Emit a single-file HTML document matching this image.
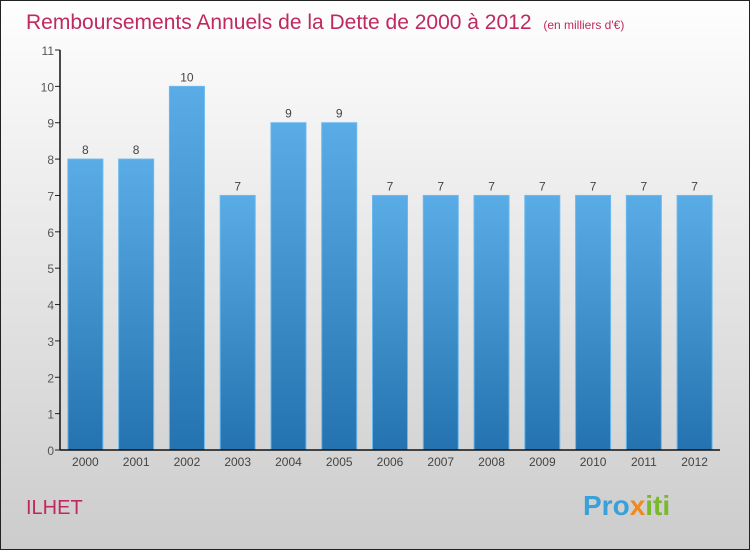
<!DOCTYPE html>
<html><head><meta charset="utf-8"><style>
body{margin:0;width:750px;height:550px;overflow:hidden;font-family:"Liberation Sans",sans-serif}
</style></head><body>
<svg width="750" height="550" xmlns="http://www.w3.org/2000/svg">
<defs>
<linearGradient id="bg" x1="0" y1="0" x2="0" y2="1"><stop offset="0" stop-color="#fefefe"/><stop offset="1" stop-color="#cccccc"/></linearGradient>
<linearGradient id="bar" x1="0" y1="0" x2="0" y2="1"><stop offset="0" stop-color="#5aace6"/><stop offset="1" stop-color="#2473b0"/></linearGradient>
</defs>
<rect x="0.5" y="0.5" width="749" height="549" fill="url(#bg)" stroke="#222"/>
<text x="26" y="29" font-size="21" fill="#c0285f">Remboursements Annuels de la Dette de 2000 à 2012 <tspan font-size="12" dx="6">(en milliers d'€)</tspan></text>
<g id="plot"></g>
<text x="26" y="514" font-size="20" fill="#c0285f">ILHET</text>
<text x="583" y="515" font-size="28" font-weight="bold" fill="#3aa0d8">Pro<tspan fill="#f08a1c">x</tspan><tspan fill="#7ab92b">iti</tspan></text>
</svg>
<script>
const categories=["2000","2001","2002","2003","2004","2005","2006","2007","2008","2009","2010","2011","2012"];
const values=[8,8,10,7,9,9,7,7,7,7,7,7,7];
const yTicks=[0,1,2,3,4,5,6,7,8,9,10,11];
const NS="http://www.w3.org/2000/svg";
const g=document.getElementById("plot");
const x0=60,x1=720,y0=450,yMax=11,yTop=50;
const y=v=>y0-(y0-yTop)*v/yMax;
const step=(x1-x0)/categories.length;
function mk(t,a,txt){const e=document.createElementNS(NS,t);for(const k in a)e.setAttribute(k,a[k]);if(txt!==undefined)e.textContent=txt;g.appendChild(e);return e;}
values.forEach((v,i)=>{
 const cx=x0+step*(i+0.5);
 const r=mk("rect",{x:cx-17.5,y:y(v),width:35,height:y0-y(v),fill:"url(#bar)",stroke:"#6ab8ee","stroke-width":1});
 
 
 const l=mk("text",{x:cx,y:y(v)-5,"text-anchor":"middle","font-size":12,fill:"#444"},v);
 
 
 const c=mk("text",{x:cx,y:466,"text-anchor":"middle","font-size":12,fill:"#444"},categories[i]);
 
 
});
yTicks.forEach(t=>{
 const tk=mk("line",{x1:55,x2:60,y1:y(t),y2:y(t),stroke:"#222"});
 
 
 const tl=mk("text",{x:54,y:y(t)+5,"text-anchor":"end","font-size":12,fill:"#555"},t);
 
 
});
const ya=mk("line",{x1:60,x2:60,y1:yTop,y2:y0,stroke:"#111","stroke-width":1.5});


const xa=mk("line",{x1:60,x2:x1,y1:y0,y2:y0,stroke:"#111","stroke-width":1.5});


</script>
</body></html>
